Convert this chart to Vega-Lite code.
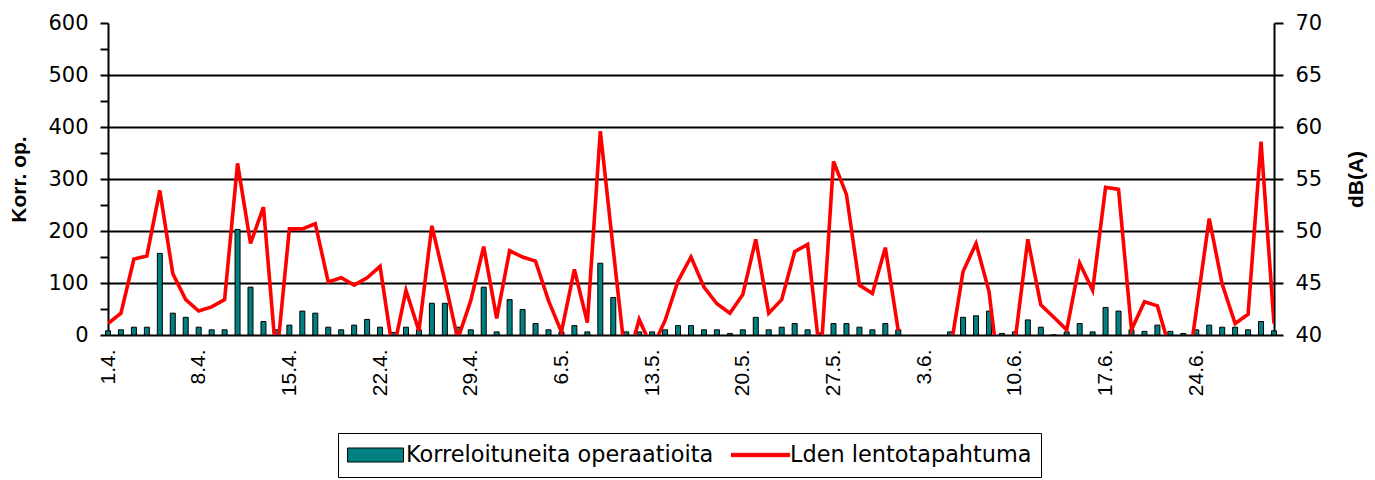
{
  "$schema": "https://vega.github.io/schema/vega-lite/v6.json",
  "width": 1166,
  "height": 312,
  "autosize": {"type": "none"},
  "padding": {"left": 108, "top": 23, "right": 101, "bottom": 145},
  "background": "white",
  "config": {
    "view": {"stroke": null},
    "axis": {"domainColor": "black", "tickColor": "black", "labelColor": "black", "titleColor": "black", "domainWidth": 2, "tickWidth": 2, "gridColor": "black", "gridWidth": 2}
  },
  "data": {"values": [
    {"d": "1.4.", "ops": 8, "lden": 41.1},
    {"d": "2.4.", "ops": 10, "lden": 42.1},
    {"d": "3.4.", "ops": 15, "lden": 47.3},
    {"d": "4.4.", "ops": 15, "lden": 47.6},
    {"d": "5.4.", "ops": 157, "lden": 53.9},
    {"d": "6.4.", "ops": 42, "lden": 45.9},
    {"d": "7.4.", "ops": 34, "lden": 43.4},
    {"d": "8.4.", "ops": 15, "lden": 42.3},
    {"d": "9.4.", "ops": 10, "lden": 42.7},
    {"d": "10.4.", "ops": 10, "lden": 43.4},
    {"d": "11.4.", "ops": 203, "lden": 56.5},
    {"d": "12.4.", "ops": 92, "lden": 48.8},
    {"d": "13.4.", "ops": 26, "lden": 52.3},
    {"d": "14.4.", "ops": 10, "lden": 37.5},
    {"d": "15.4.", "ops": 19, "lden": 50.2},
    {"d": "16.4.", "ops": 46, "lden": 50.2},
    {"d": "17.4.", "ops": 42, "lden": 50.7},
    {"d": "18.4.", "ops": 15, "lden": 45.1},
    {"d": "19.4.", "ops": 10, "lden": 45.5},
    {"d": "20.4.", "ops": 19, "lden": 44.8},
    {"d": "21.4.", "ops": 30, "lden": 45.5},
    {"d": "22.4.", "ops": 15, "lden": 46.6},
    {"d": "23.4.", "ops": 5, "lden": 38.3},
    {"d": "24.4.", "ops": 15, "lden": 44.3},
    {"d": "25.4.", "ops": 10, "lden": 40.4},
    {"d": "26.4.", "ops": 61, "lden": 50.5},
    {"d": "27.4.", "ops": 61, "lden": 45.2},
    {"d": "28.4.", "ops": 15, "lden": 39.6},
    {"d": "29.4.", "ops": 10, "lden": 43.3},
    {"d": "30.4.", "ops": 92, "lden": 48.5},
    {"d": "1.5.", "ops": 6, "lden": 41.6},
    {"d": "2.5.", "ops": 68, "lden": 48.1},
    {"d": "3.5.", "ops": 49, "lden": 47.5},
    {"d": "4.5.", "ops": 22, "lden": 47.1},
    {"d": "5.5.", "ops": 10, "lden": 43.3},
    {"d": "6.5.", "ops": 6, "lden": 40.3},
    {"d": "7.5.", "ops": 18, "lden": 46.3},
    {"d": "8.5.", "ops": 6, "lden": 41.2},
    {"d": "9.5.", "ops": 138, "lden": 59.6},
    {"d": "10.5.", "ops": 72, "lden": 48.2},
    {"d": "11.5.", "ops": 6, "lden": 37},
    {"d": "12.5.", "ops": 6, "lden": 41.5},
    {"d": "13.5.", "ops": 6, "lden": 38.7},
    {"d": "14.5.", "ops": 10, "lden": 41.4},
    {"d": "15.5.", "ops": 18, "lden": 45.2},
    {"d": "16.5.", "ops": 18, "lden": 47.5},
    {"d": "17.5.", "ops": 10, "lden": 44.6},
    {"d": "18.5.", "ops": 10, "lden": 43.0},
    {"d": "19.5.", "ops": 3, "lden": 42.1},
    {"d": "20.5.", "ops": 10, "lden": 43.9},
    {"d": "21.5.", "ops": 34, "lden": 49.2},
    {"d": "22.5.", "ops": 10, "lden": 42.1},
    {"d": "23.5.", "ops": 15, "lden": 43.4},
    {"d": "24.5.", "ops": 22, "lden": 48.0},
    {"d": "25.5.", "ops": 10, "lden": 48.7},
    {"d": "26.5.", "ops": 4, "lden": 37.5},
    {"d": "27.5.", "ops": 22, "lden": 56.7},
    {"d": "28.5.", "ops": 22, "lden": 53.5},
    {"d": "29.5.", "ops": 15, "lden": 44.8},
    {"d": "30.5.", "ops": 10, "lden": 44.0},
    {"d": "31.5.", "ops": 22, "lden": 48.4},
    {"d": "1.6.", "ops": 10, "lden": 40.4},
    {"d": "2.6.", "ops": null, "lden": null},
    {"d": "3.6.", "ops": null, "lden": null},
    {"d": "4.6.", "ops": null, "lden": null},
    {"d": "5.6.", "ops": 6, "lden": 38.4},
    {"d": "6.6.", "ops": 34, "lden": 46.1},
    {"d": "7.6.", "ops": 37, "lden": 48.8},
    {"d": "8.6.", "ops": 46, "lden": 44.2},
    {"d": "9.6.", "ops": 3, "lden": 34},
    {"d": "10.6.", "ops": 6, "lden": 39.3},
    {"d": "11.6.", "ops": 29, "lden": 49.2},
    {"d": "12.6.", "ops": 15, "lden": 42.9},
    {"d": "13.6.", "ops": 0, "lden": 41.7},
    {"d": "14.6.", "ops": 6, "lden": 40.5},
    {"d": "15.6.", "ops": 22, "lden": 46.9},
    {"d": "16.6.", "ops": 6, "lden": 44.3},
    {"d": "17.6.", "ops": 53, "lden": 54.2},
    {"d": "18.6.", "ops": 46, "lden": 54.0},
    {"d": "19.6.", "ops": 10, "lden": 40.5},
    {"d": "20.6.", "ops": 7, "lden": 43.2},
    {"d": "21.6.", "ops": 19, "lden": 42.8},
    {"d": "22.6.", "ops": 7, "lden": 38.5},
    {"d": "23.6.", "ops": 3, "lden": 33.5},
    {"d": "24.6.", "ops": 10, "lden": 42.3},
    {"d": "25.6.", "ops": 19, "lden": 51.2},
    {"d": "26.6.", "ops": 15, "lden": 44.9},
    {"d": "27.6.", "ops": 15, "lden": 41.1},
    {"d": "28.6.", "ops": 10, "lden": 42.0},
    {"d": "29.6.", "ops": 26, "lden": 58.6},
    {"d": "30.6.", "ops": 8, "lden": 41.1}
  ]},
  "encoding": {
    "x": {
      "field": "d",
      "type": "ordinal",
      "scale": {
        "type": "point",
        "padding": 0,
        "domain": ["1.4.","2.4.","3.4.","4.4.","5.4.","6.4.","7.4.","8.4.","9.4.","10.4.","11.4.","12.4.","13.4.","14.4.","15.4.","16.4.","17.4.","18.4.","19.4.","20.4.","21.4.","22.4.","23.4.","24.4.","25.4.","26.4.","27.4.","28.4.","29.4.","30.4.","1.5.","2.5.","3.5.","4.5.","5.5.","6.5.","7.5.","8.5.","9.5.","10.5.","11.5.","12.5.","13.5.","14.5.","15.5.","16.5.","17.5.","18.5.","19.5.","20.5.","21.5.","22.5.","23.5.","24.5.","25.5.","26.5.","27.5.","28.5.","29.5.","30.5.","31.5.","1.6.","2.6.","3.6.","4.6.","5.6.","6.6.","7.6.","8.6.","9.6.","10.6.","11.6.","12.6.","13.6.","14.6.","15.6.","16.6.","17.6.","18.6.","19.6.","20.6.","21.6.","22.6.","23.6.","24.6.","25.6.","26.6.","27.6.","28.6.","29.6.","30.6."]
      },
      "axis": {
        "values": ["1.4.","8.4.","15.4.","22.4.","29.4.","6.5.","13.5.","20.5.","27.5.","3.6.","10.6.","17.6.","24.6."],
        "labelAngle": -90,
        "labelFont": "Liberation Sans",
        "labelFontSize": 21,
        "labelPadding": 14,
        "ticks": false,
        "grid": false,
        "title": null
      }
    }
  },
  "layer": [
    {
      "mark": {"type": "bar", "size": 5, "fill": "#008080", "stroke": "black", "strokeWidth": 1},
      "encoding": {
        "y": {
          "field": "ops",
          "type": "quantitative",
          "scale": {"domain": [0, 600]},
          "axis": {
            "orient": "left",
            "values": [0, 50, 100, 150, 200, 250, 300, 350, 400, 450, 500, 550, 600],
            "labelExpr": "datum.value % 100 === 0 ? datum.label : ''",
            "labelOverlap": false,
            "grid": true,
            "gridOpacity": {"condition": {"test": "datum.value % 100 === 0 && datum.value > 0 && datum.value < 600", "value": 1}, "value": 0},
            "tickSize": 8,
            "labelPadding": 12,
            "labelFont": "DejaVu Sans",
            "labelFontSize": 21,
            "title": "Korr. op.",
            "titleFont": "Liberation Sans",
            "titleFontSize": 21,
            "titleFontWeight": "bold",
            "titlePadding": 18
          }
        }
      }
    },
    {
      "mark": {"type": "line", "stroke": "#ff0000", "strokeWidth": 3.6, "clip": true},
      "encoding": {
        "y": {
          "field": "lden",
          "type": "quantitative",
          "scale": {"domain": [40, 70], "nice": false},
          "axis": {
            "orient": "right",
            "values": [40, 45, 50, 55, 60, 65, 70],
            "grid": false,
            "tickSize": 9,
            "labelPadding": 12,
            "labelFont": "DejaVu Sans",
            "labelFontSize": 21,
            "title": "dB(A)",
            "titleAngle": 270,
            "titleBaseline": "top",
            "titleFont": "Liberation Sans",
            "titleFontSize": 21,
            "titleFontWeight": "bold",
            "titlePadding": 24
          }
        }
      }
    },
    {
      "transform": [{"filter": "false"}],
      "mark": {"type": "point", "filled": true, "opacity": 0},
      "encoding": {
        "color": {
          "datum": "Korreloituneita operaatioita",
          "type": "nominal",
          "scale": {"domain": ["Korreloituneita operaatioita", "Lden lentotapahtuma"], "range": ["#008080", "#ff0000"]},
          "legend": {"orient": "none", "legendX": 230, "legendY": 410, "direction": "horizontal", "title": null, "strokeColor": "black", "padding": 9, "labelFont": "DejaVu Sans", "labelFontSize": 22.4, "labelColor": "black", "labelLimit": 600, "symbolSize": 3136, "symbolStrokeWidth": 1, "symbolOpacity": 1, "clipHeight": 26, "labelOffset": 2, "columnPadding": 17}
        },
        "shape": {
          "datum": "Korreloituneita operaatioita",
          "type": "nominal",
          "scale": {"domain": ["Korreloituneita operaatioita", "Lden lentotapahtuma"], "range": ["M-1,-0.25H1V0.25H-1Z", "M-1.08,-0.06H1.08V0.06H-1.08Z"]},
          "legend": {"orient": "none", "legendX": 230, "legendY": 410, "direction": "horizontal", "title": null, "strokeColor": "black", "padding": 9, "labelFont": "DejaVu Sans", "labelFontSize": 22.4, "labelColor": "black", "labelLimit": 600, "symbolSize": 3136, "symbolStrokeWidth": 1, "symbolOpacity": 1, "clipHeight": 26, "labelOffset": 2, "columnPadding": 17}
        },
        "stroke": {
          "datum": "Korreloituneita operaatioita",
          "type": "nominal",
          "scale": {"domain": ["Korreloituneita operaatioita", "Lden lentotapahtuma"], "range": ["#000000", "#ff0000"]},
          "legend": {"orient": "none", "legendX": 230, "legendY": 410, "direction": "horizontal", "title": null, "strokeColor": "black", "padding": 9, "labelFont": "DejaVu Sans", "labelFontSize": 22.4, "labelColor": "black", "labelLimit": 600, "symbolSize": 3136, "symbolStrokeWidth": 1, "symbolOpacity": 1, "clipHeight": 26, "labelOffset": 2, "columnPadding": 17}
        }
      }
    }
  ],
  "resolve": {"scale": {"y": "independent"}}
}
